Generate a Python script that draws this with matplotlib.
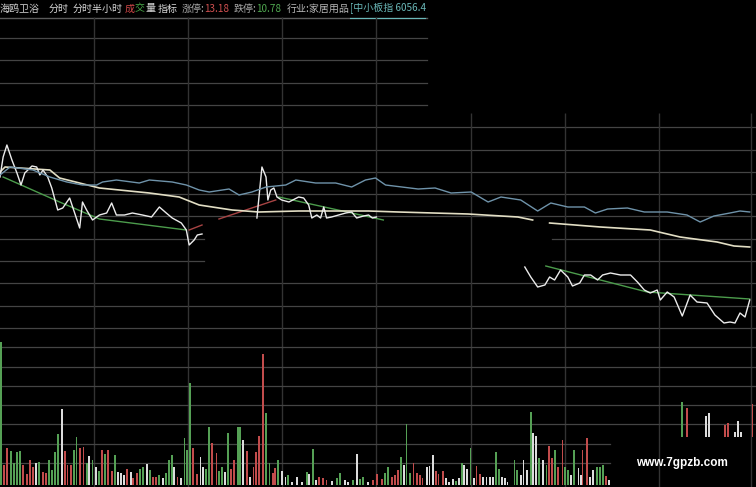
import matplotlib
matplotlib.use("Agg")
import matplotlib.pyplot as plt
import numpy as np

plt.rcParams["font.family"] = ["Noto Sans CJK SC", "DejaVu Sans"]

# ---- 分时价格（分钟, 元）----
price1_t = [0, 1, 2.2, 3.8, 5.4, 6.7, 7.9, 10.2, 11.7, 12.7, 13.7, 15.2, 16.5, 18.4, 20, 22.2,
            23.8, 25.4, 26.3, 27.6, 29.5, 31.7, 34, 35.6, 37.1, 39.7, 42.2, 45.4, 48.3, 50.8,
            53, 54.9, 57.8, 59.4, 60.3, 61.9, 62.9, 64.4]
price1_v = [11.792, 11.872, 11.92, 11.86, 11.808, 11.76, 11.808, 11.836, 11.832, 11.80, 11.82,
            11.792, 11.748, 11.66, 11.668, 11.708, 11.648, 11.588, 11.692, 11.66, 11.62, 11.64,
            11.648, 11.688, 11.64, 11.64, 11.648, 11.64, 11.632, 11.672, 11.648, 11.628, 11.608,
            11.58, 11.52, 11.54, 11.56, 11.564]

price2_t = [81.9, 83.5, 84.8, 85.4, 86.3, 87.3, 88.3, 89.8, 92.1, 95.2, 96.8, 98.4, 99.4, 101,
            102.2, 103.2, 104.1, 105.7, 110.2, 112.1, 113.7, 115.9, 117.5, 118.7, 120]
price2_v = [11.628, 11.832, 11.792, 11.70, 11.74, 11.748, 11.712, 11.70, 11.692, 11.712, 11.708,
            11.68, 11.628, 11.64, 11.628, 11.672, 11.628, 11.632, 11.648, 11.652, 11.628, 11.636,
            11.64, 11.628, 11.632]

price3_t = [167.3, 169.2, 171.4, 173.7, 175.2, 176.8, 178.7, 181, 182.5, 184.8, 186.3, 188.3,
            190.5, 192.1, 194.6, 197.8, 201, 203.2, 205.4, 207.3, 209.5, 210.5, 212.7, 214.9,
            217.5, 220, 222.2, 225.4, 227.9, 230.8, 232.7, 234.3, 235.9, 237.5, 239]
price3_v = [11.432, 11.392, 11.352, 11.36, 11.392, 11.38, 11.42, 11.392, 11.356, 11.368, 11.40,
            11.40, 11.38, 11.40, 11.408, 11.40, 11.40, 11.372, 11.34, 11.328, 11.34, 11.30,
            11.332, 11.312, 11.236, 11.32, 11.292, 11.288, 11.24, 11.208, 11.212, 11.208, 11.248,
            11.232, 11.30]

# ---- 均价线 ----
avg1_t = [0, 1.6, 15.9, 19, 31.7, 47.6, 57.1, 63.5, 74, 82.5, 95.2, 117.5, 127, 149.2, 165.1, 169.8]
avg1_v = [11.812, 11.832, 11.82, 11.788, 11.748, 11.728, 11.712, 11.68, 11.66, 11.652, 11.656,
          11.656, 11.652, 11.644, 11.632, 11.62]
avg2_t = [175.2, 191.4, 207.3, 216.8, 228.6, 234, 239]
avg2_v = [11.608, 11.592, 11.58, 11.552, 11.532, 11.516, 11.512]

# ---- 中小板指 ----
index_t = [0, 3.2, 10.5, 15.9, 21.3, 26.3, 30.8, 32.7, 37.1, 44.4, 47.6, 54.9, 59.4, 63.5, 66.7,
           73, 76.2, 80.3, 84.8, 91.1, 94.3, 100.6, 107, 112.1, 116.5, 119.7, 122.9, 133.3,
           138.7, 143.8, 150.2, 155.6, 159.7, 166, 171.4, 175.6, 181, 186.3, 189.8, 193.7, 200,
           205.4, 212.7, 219, 223.2, 227.6, 232.7, 235.9, 239]
index_v = [6086, 6092.4, 6090, 6084.4, 6080.4, 6078, 6078, 6080.4, 6082, 6079.6, 6082, 6080.4,
           6078, 6074, 6072.4, 6074.8, 6070, 6072.4, 6076.4, 6078, 6082, 6079.6, 6079.6, 6076.4,
           6082, 6083.6, 6078, 6074.8, 6075.6, 6071.6, 6072.4, 6064.4, 6068.4, 6066, 6057.2,
           6063.6, 6060.4, 6060.4, 6055.6, 6058.8, 6059.6, 6056.4, 6056.4, 6054, 6048.4, 6053.2,
           6055.6, 6057.2, 6056.4]

# ---- 趋势线 ----
green_lines = [
    ([1, 19, 31.7, 59.4], [11.792, 11.692, 11.624, 11.58]),
    ([88.9, 122.2], [11.712, 11.62]),
    ([174, 206.3, 239], [11.436, 11.332, 11.304]),
]
red_lines = [
    ([60.3, 64.4], [11.58, 11.60]),
    ([69.8, 87.9], [11.624, 11.70]),
]

# ---- 成交量 ----
vol_t = [0.3, 1.3, 2.2, 3.5, 4.5, 5.4, 6.4, 7.3, 8.6, 9.6, 10.5, 11.5, 12.4, 13.7, 14.7, 15.6,
         16.6, 17.5, 18.5, 19.8, 20.7, 21.4, 22.6, 23.6, 24.5, 25.5, 26.5, 27.7, 28.4, 29.6,
         30.6, 31.6, 32.5, 33.5, 34.4, 35.7, 36.7, 37.6, 38.6, 39.5, 40.5, 41.8, 42.4, 43.7,
         44.6, 45.6, 46.9, 47.8, 48.8, 49.7, 50.7, 52, 52.9, 53.9, 54.8, 55.5, 56.7, 57.7, 58.7,
         59.6, 60.6, 61.5, 62.8, 63.8, 64.7, 65.7, 66.6, 67.6, 68.9, 69.8, 70.8, 71.7, 72.7,
         73.6, 74.6, 75.9, 76.5, 77.5, 78.7, 79.7, 80.7, 81.6, 82.6, 83.8, 84.8, 85.8, 87, 87.7,
         88.6, 89.9, 90.9, 91.8, 93.1, 94.7, 96.3, 97.9, 98.5, 99.8, 100.7, 101.7, 103, 104.2,
         105.8, 107.4, 108.4, 110, 110.9, 112.5, 113.8, 114.8, 115.7, 117.3, 118.9, 120.2,
         121.8, 122.7, 123.7, 125, 125.9, 126.9, 127.8, 128.8, 129.7, 130.7, 131.7, 132.9,
         133.9, 134.8, 136.1, 136.8, 138, 139, 139.9, 141.2, 142.2, 143.1, 144.4, 145.4, 146.3,
         147.3, 147.9, 148.9, 150.1, 151.1, 152, 153, 154, 155.2, 156.2, 157.2, 158.1, 159.1,
         160, 161, 161.9, 163.9, 164.8, 166.1, 167, 168, 169.3, 169.9, 170.9, 171.8, 173.1,
         174.1, 175, 176, 176.9, 177.9, 179.2, 180.1, 181.1, 182, 183, 184.3, 185.2, 185.8,
         187.1, 188.1, 189, 190.3, 191.3, 192.2, 193.2, 194.1]
vol_v = [1430, 200, 370, 340, 220, 330, 340, 200, 110, 250, 180, 220, 230, 130, 120, 250, 150,
         330, 510, 760, 340, 200, 200, 350, 480, 370, 380, 220, 290, 250, 180, 140, 350, 310,
         350, 140, 300, 130, 120, 100, 160, 130, 70, 120, 160, 180, 210, 150, 80, 80, 100, 70,
         120, 250, 300, 180, 80, 70, 470, 350, 1020, 370, 110, 280, 180, 160, 580, 420, 320,
         140, 180, 130, 520, 160, 250, 580, 580, 450, 340, 80, 180, 330, 490, 1310, 720, 220,
         120, 170, 250, 140, 80, 100, 30, 80, 30, 130, 110, 360, 50, 80, 70, 50, 40, 70, 120,
         50, 30, 50, 310, 60, 80, 30, 50, 110,
         60, 120, 180, 80, 100, 150, 280, 200, 610, 120, 220, 120, 100, 70, 180, 190, 300, 140,
         110, 140, 70, 30, 60, 40, 70, 220, 200, 160, 370, 70, 190, 110, 80, 80, 80, 80, 330,
         160, 80, 70, 30, 250, 150, 100, 250, 150, 730, 520, 490, 270, 250, 200, 390, 270, 350,
         180, 450, 180, 150, 100, 350, 170, 100, 350, 470, 80, 150, 180, 180, 200, 90, 50]
vol_c = list("GRRGGGGRRRRWGRRGGGGWRRRGGRRGWGWGRGRRGWWWRWRRGGWGRRGWGGGWRWGGGRRWWGGRRG"
             "GWGRRGGWRWRRRRGGRRGWWGWWWGWGWRRRWGGWWGWGGWRR"
             "RGGRRRGWGGRRRRWWWRRRWWWGWGWWGWRRWWWWGGWWWGGWWWGWWGWGRRGRRGGWGWWRRWWGGGRW")
# 尾盘一组柱（画在抬高的底线上）
tail_t = [217.4, 219, 225.1, 226, 231.1, 232.1, 234.3, 235.3, 236.2, 239.8]
tail_v = [350, 290, 210, 240, 120, 140, 50, 160, 50, 330]
tail_c = list("GRWWRRWWWR")
tail_base = 480

header = [
    ("海鸥卫浴", "#d0d0d0"), ("分时", "#d8d8d8"), ("分时半小时", "#d8d8d8"),
    ("成", "#d04848"), ("交", "#48a848"), ("量", "#d8d8d8"), ("指标", "#d8d8d8"),
    ("涨停:", "#a8a8a8"), ("13.18", "#d05050"), ("跌停:", "#a8a8a8"), ("10.78", "#50a850"),
    ("行业:家居用品", "#b8b8b8"), ("[中小板指 6056.4", "#6ab8b8"),
]
header_x = [0, 49, 73, 125, 135, 145, 158, 182, 204, 234, 256, 287, 350]

BAR_COLORS = {"G": "#55a055", "R": "#c24c4c", "W": "#dcdcdc"}
GRID = "#444444"


def main():
    W, H = 756, 487
    fig = plt.figure(figsize=(W / 100, H / 100), dpi=100, facecolor="black")
    ax_p = fig.add_axes([0, 147 / H, 1, 323 / H], facecolor="black")
    ax_v = fig.add_axes([0, 0, 1, 147 / H], facecolor="black")
    ax_i = ax_p.twinx()

    for ax in (ax_p, ax_v, ax_i):
        ax.set_xlim(0, 241)
        ax.set_axis_off()
    ax_p.set_ylim(11.14, 12.432)
    ax_i.set_ylim(5954, 6212.4)
    ax_v.set_ylim(-20, 1450)

    # grid of the price panel
    rows = np.linspace(11.188, 12.348, 14)
    for k, y in enumerate(rows):
        if k >= 10:
            ax_p.axhline(y, xmax=0.565, color=GRID, lw=0.9, zorder=0)
        elif k in (3, 4):
            ax_p.axhline(y, xmax=0.27, color=GRID, lw=0.9, zorder=0)
            ax_p.axhline(y, xmin=0.73, color=GRID, lw=0.9, zorder=0)
        else:
            ax_p.axhline(y, color=GRID, lw=0.9, zorder=0)
    ax_p.axhline(12.43, xmax=0.565, color="#5a5a5a", lw=1.0, zorder=0)
    ax_p.axhline(12.43, xmin=0.463, xmax=0.562, color="#6ab8b8", lw=0.8, zorder=0)
    for m in range(30, 241, 30):
        top = 12.432 if m <= 120 else 12.048
        x = min(m, 239.4)
        ax_p.vlines(x, 11.14, top, color="#333333", lw=1.0, zorder=0)
        ax_v.axvline(x, color="#333333", lw=1.0, zorder=0)

    # grid of the volume panel
    for k, y in enumerate(np.linspace(220, 1378, 7)):
        ax_v.axhline(y, xmax=0.807 if k < 2 else 1.0, color=GRID, lw=0.9, zorder=0)

    # lines
    for tt, vv in green_lines:
        ax_p.plot(tt, vv, color="#4c9c4c", lw=1.0, zorder=2)
    for tt, vv in red_lines:
        ax_p.plot(tt, vv, color="#a84444", lw=1.0, zorder=2)
    ax_i.plot(index_t, index_v, color="#6f93aa", lw=1.0, zorder=2)
    for tt, vv in ((avg1_t, avg1_v), (avg2_t, avg2_v)):
        ax_p.plot(tt, vv, color="#e2dec4", lw=1.2, zorder=3)
    for tt, vv in ((price1_t, price1_v), (price2_t, price2_v), (price3_t, price3_v)):
        ax_p.plot(tt, vv, color="#ececec", lw=1.0, zorder=4)

    # volume bars
    ax_v.bar(vol_t, vol_v, width=0.4, color=[BAR_COLORS[c] for c in vol_c], zorder=2)
    ax_v.bar(tail_t, tail_v, bottom=tail_base, width=0.4,
             color=[BAR_COLORS[c] for c in tail_c], zorder=2)

    # header
    for (s, c), x in zip(header, header_x):
        fig.text(x / W, 1 - 8.5 / H, s, color=c, fontsize=7.2, va="center", ha="left")

    fig.text(682 / W, 1 - 463 / H, "www.7gpzb.com", color="white", fontsize=8.5,
             fontweight="bold", ha="center", va="center", family=["Liberation Sans", "DejaVu Sans"])

    fig.savefig("out.png", dpi=100, facecolor="black")


if __name__ == "__main__":
    main()
